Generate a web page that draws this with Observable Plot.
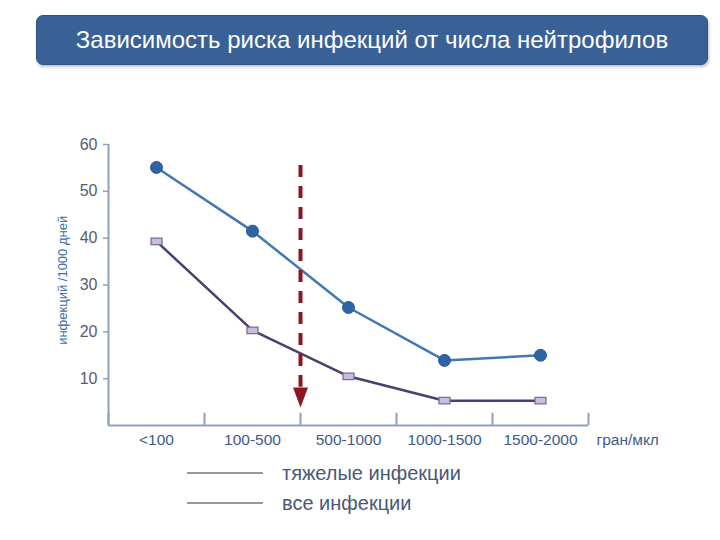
<!DOCTYPE html>
<html>
<head>
<meta charset="utf-8">
<script src="https://cdn.jsdelivr.net/npm/d3@7"></script>
<script src="https://cdn.jsdelivr.net/npm/@observablehq/plot@0.6"></script>
<style>
  html, body { margin: 0; padding: 0; background: #fff; }
  #wrap { position: relative; width: 720px; height: 540px; font-family: "Liberation Sans", Arial, sans-serif; }
  #title { position: absolute; left: 36px; top: 15px; width: 670px; height: 48px; background: #3a6195; border: 1px solid #2f5283; border-radius: 7px; box-shadow: 1px 2px 3px rgba(0,0,0,0.25); color: #fff; font-size: 24px; line-height: 48px; text-align: center; }
  .leg { position: absolute; left: 187px; width: 340px; height: 24px; font-size: 20px; color: #4a5878; }
  .leg span.line { position: absolute; left: 0; top: 11px; width: 76px; height: 2px; background: #9a9a9a; }
  .leg span.txt { position: absolute; left: 95px; top: 0; line-height: 24px; white-space: nowrap; }
  #chart { position: absolute; left: 0; top: 0; }
</style>
</head>
<body>
<div id="wrap">
  <div id="chart"></div>
  <div id="title">Зависимость риска инфекций от числа нейтрофилов</div>
  <div class="leg" style="top:461px"><span class="line"></span><span class="txt">тяжелые инфекции</span></div>
  <div class="leg" style="top:491px"><span class="line"></span><span class="txt">все инфекции</span></div>
</div>
<script>
const categories = ["<100", "100-500", "500-1000", "1000-1500", "1500-2000"];
const unitLabel = "гран/мкл";
const yLabel = "инфекций /1000 дней";
const yTicks = [10, 20, 30, 40, 50, 60];
const allInfections = [55.1, 41.5, 25.2, 13.9, 15.0];
const severeInfections = [39.3, 20.3, 10.5, 5.3, 5.3];
const thresholdBoundary = 1.5; // between 100-500 and 500-1000
const arrowFrom = 55.5, arrowTo = 3.85;

const blue = categories.map((c, i) => ({i, v: allInfections[i]}));
const purple = categories.map((c, i) => ({i, v: severeInfections[i]}));
const bounds = d3.range(-0.5, categories.length, 1);

const rectSymbol = {
  draw(ctx) {
    const w = 11, h = 6.5;
    ctx.moveTo(-w/2, -h/2); ctx.lineTo(w/2, -h/2); ctx.lineTo(w/2, h/2); ctx.lineTo(-w/2, h/2); ctx.closePath();
  }
};
// downward arrowhead with its tip at the anchor point
const arrowHead = {
  draw(ctx) {
    ctx.moveTo(0, 0); ctx.lineTo(-7.5, -20); ctx.lineTo(7.5, -20); ctx.closePath();
  }
};
const axisColor = "#8fa2bc";

const plot = Plot.plot({
  width: 720, height: 540,
  marginTop: 144, marginBottom: 115, marginLeft: 108, marginRight: 132,
  style: {fontFamily: "Liberation Sans, Arial, sans-serif", background: "transparent"},
  x: {type: "linear", domain: [-0.5, categories.length - 0.5], axis: null},
  y: {type: "linear", domain: [0, 60], axis: null},
  marks: [
    // axes
    Plot.ruleX([-0.5], {y1: 0, y2: 60, stroke: axisColor, strokeWidth: 2}),
    Plot.ruleY([0], {x1: -0.5, x2: categories.length - 0.5, stroke: axisColor, strokeWidth: 2}),
    Plot.axisY({ticks: yTicks, tickSize: 5, tickFormat: () => "", label: null, stroke: axisColor, strokeWidth: 1.5}),
    Plot.text(yTicks, {x: -0.5, y: d => d, text: d => String(d), textAnchor: "end", dx: -11, fontSize: 16, fill: "#555d6e"}),
    Plot.ruleX(bounds, {x: d => d, y1: 0, y2: 2.6, stroke: axisColor, strokeWidth: 2}),
    Plot.text(categories, {x: (d, i) => i, y: 0, text: d => d, dy: 15, fontSize: 15.5, fill: "#3e5b87"}),
    Plot.text([unitLabel], {x: categories.length - 0.5, y: 0, text: d => d, textAnchor: "start", dx: 8, dy: 15, fontSize: 15.5, fill: "#3e5b87"}),
    Plot.text([yLabel], {x: -0.5, y: 31, text: d => d, rotate: -90, dx: -46, fontSize: 13, fill: "#3a6ea8"}),
    // data lines
    Plot.line(purple, {x: "i", y: "v", stroke: "#4b3f6e", strokeWidth: 2.5}),
    Plot.line(blue, {x: "i", y: "v", stroke: "#3f78b3", strokeWidth: 2.5}),
    // threshold arrow
    Plot.ruleX([thresholdBoundary], {x: d => d, y1: arrowFrom, y2: arrowTo + 4.3, stroke: "#8c1621", strokeWidth: 4, strokeDasharray: "12,9"}),
    Plot.dot([thresholdBoundary], {x: d => d, y: arrowTo, symbol: arrowHead, fill: "#8c1621", stroke: "none"}),
    // markers
    Plot.dot(purple, {x: "i", y: "v", symbol: rectSymbol, fill: "#cbbcdb", stroke: "#7b6c9e", strokeWidth: 1.3}),
    Plot.dot(blue, {x: "i", y: "v", r: 6, fill: "#2f64a4", stroke: "#2b5b95", strokeWidth: 1})
  ]
});
document.getElementById("chart").appendChild(plot);
</script>
</body>
</html>
